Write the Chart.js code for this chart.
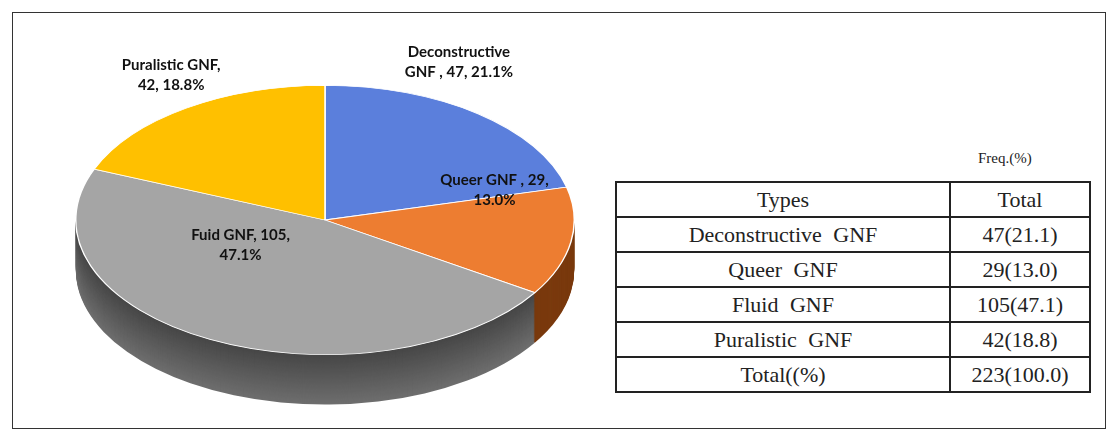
<!DOCTYPE html>
<html>
<head>
<meta charset="utf-8">
<script src="https://cdn.jsdelivr.net/npm/chart.js@4"></script>
<style>
  body { margin: 0; width: 1117px; height: 437px; overflow: hidden; background: #fff; position: relative; }
  #frame { position: absolute; left: 12px; top: 12px; width: 1092px; height: 415px; border: 1px solid #333; }
  #pieBox { position: absolute; left: 75px; top: -30px; width: 500px; height: 500px; }
  #unit { position: absolute; left: 978px; top: 150px; font: 15px "Liberation Serif", serif; color: #222; }
  table { position: absolute; left: 615px; top: 181px; width: 476px; border-collapse: collapse;
          font: 22px "Liberation Serif", serif; color: #222; word-spacing: 6px; }
  td { border: 2px solid #222; height: 33px; text-align: center; padding: 0; line-height: 33px; }
  td:first-child { width: 332px; }
</style>
</head>
<body>
<div id="frame"></div>
<div id="pieBox"><canvas id="pie"></canvas></div>
<div id="unit">Freq.(%)</div>
<table id="tbl"></table>
<script>
// chart data
const categories = ['Deconstructive GNF', 'Queer GNF', 'Fluid GNF', 'Puralistic GNF'];
const counts = [47, 29, 105, 42];
const percents = [21.1, 13.0, 47.1, 18.8];
const pieLabels = [['Deconstructive', 'GNF , 47, 21.1%'], ['Queer GNF , 29,', '13.0%'], ['Fuid GNF, 105,', '47.1%'], ['Puralistic GNF,', '42, 18.8%']];
const tableHeader = ['Types', 'Total'];
const totalRow = ['Total((%)', '223(100.0)'];

const topColors = ['#5b7fdc', '#ed7d31', '#a5a5a5', '#ffc000'];
const sideColors = ['#3a56a8', '#7a3a0e', '#5e5e5e', '#a07800'];
const SQUASH = 0.54, DEPTH = 50;

// table
const tbl = document.getElementById('tbl');
function addRow(a, b) {
    const tr = document.createElement('tr');
    tr.innerHTML = '<td>' + a + '</td><td>' + b + '</td>';
    tbl.appendChild(tr);
}
addRow(tableHeader[0], tableHeader[1]);
categories.forEach(function(c, i) { addRow(c, counts[i] + '(' + percents[i].toFixed(1) + ')'); });
addRow(totalRow[0], totalRow[1]);

// fake 3D: squash the pie and draw a side wall under it
const pie3d = {
    id: 'pie3d',
    beforeDatasetsDraw(chart) {
        const ctx = chart.ctx;
        const arcs = chart.getDatasetMeta(0).data;
        const cx = arcs[0].x, cy = arcs[0].y;
        ctx.save();
        ctx.translate(cx, cy);
        ctx.scale(1, SQUASH);
        ctx.translate(-cx, -cy);
        for (let d = DEPTH; d > 0; d--) {
            arcs.forEach(function(a, i) {
                ctx.beginPath();
                ctx.moveTo(cx, cy + d / SQUASH);
                ctx.arc(cx, cy + d / SQUASH, a.outerRadius, a.startAngle, a.endAngle);
                ctx.closePath();
                const shade = i === 2 ? Math.round(70 + (d / DEPTH) * 40) : null;
                ctx.fillStyle = shade ? 'rgb(' + shade + ',' + shade + ',' + shade + ')' : sideColors[i];
                ctx.fill();
            });
        }
        // keep the squash on for the arcs themselves
    },
    afterDatasetsDraw(chart) {
        chart.ctx.restore();
    },
    afterDraw(chart) {
        const ctx = chart.ctx;
        const arcs = chart.getDatasetMeta(0).data;
        const f = [1.2, 0.75, 0.5, 1.2];
        const off = [[-50, -30], [-15, -46], [-27, -35], [13, -11]];
        ctx.save();
        ctx.font = 'bold 15px Lato, "Open Sans", sans-serif';
        ctx.fillStyle = '#111';
        ctx.textAlign = 'center';
        ctx.textBaseline = 'middle';
        arcs.forEach(function(a, i) {
            const mid = (a.startAngle + a.endAngle) / 2;
            const r = a.outerRadius * f[i];
            const x = a.x + Math.cos(mid) * r + off[i][0];
            const y = a.y + Math.sin(mid) * r * SQUASH + off[i][1];
            pieLabels[i].forEach(function(line, k) {
                ctx.fillText(line, x, y + (k - 0.5) * 20);
            });
        });
        ctx.restore();
    }
};

new Chart(document.getElementById('pie'), {
    type: 'pie',
    data: {
        labels: categories,
        datasets: [{
            data: counts,
            backgroundColor: topColors,
            borderColor: '#fff',
            borderWidth: 1.5
        }]
    },
    options: {
        responsive: true,
        maintainAspectRatio: false,
        animation: false,
        layout: { padding: 0 },
        plugins: { legend: { display: false }, tooltip: { enabled: false } }
    },
    plugins: [pie3d]
});
</script>
</body>
</html>
